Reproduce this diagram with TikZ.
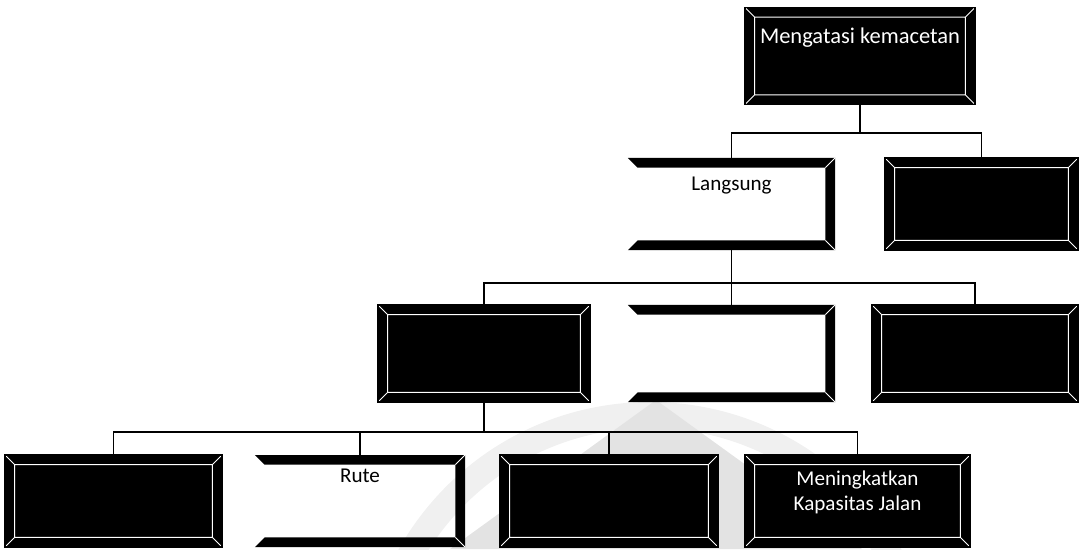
\documentclass[tikz,border=0pt]{standalone}
\usepackage{fontspec}
\setmainfont{Carlito}
\usetikzlibrary{positioning, calc}
\newcommand{\bevd}{2.4mm}
\newcommand{\bevlines}[1]{%
  \draw[#1, line width=0.7pt]
    ([shift={(\bevd,-\bevd)}]path picture bounding box.north west) rectangle ([shift={(-\bevd,\bevd)}]path picture bounding box.south east)
    (path picture bounding box.north west) -- ++(\bevd,-\bevd)
    (path picture bounding box.north east) -- ++(-\bevd,-\bevd)
    (path picture bounding box.south east) -- ++(-\bevd,\bevd)
    (path picture bounding box.south west) -- ++(\bevd,\bevd);}
\newcommand{\bevbands}{%
  \fill[black] (path picture bounding box.north west) -- (path picture bounding box.north east) -- ++(-\bevd,-\bevd) -- ([shift={(\bevd,-\bevd)}]path picture bounding box.north west) -- cycle;
  \fill[black] (path picture bounding box.north east) -- (path picture bounding box.south east) -- ++(-\bevd,\bevd) -- ([shift={(-\bevd,-\bevd)}]path picture bounding box.north east) -- cycle;
  \fill[black] (path picture bounding box.south west) -- (path picture bounding box.south east) -- ++(-\bevd,\bevd) -- ([shift={(\bevd,\bevd)}]path picture bounding box.south west) -- cycle;
  \draw[white, line width=0.7pt] (path picture bounding box.north east) -- ++(-\bevd,-\bevd)
    (path picture bounding box.south east) -- ++(-\bevd,\bevd);}
\tikzset{
  box/.style={rectangle, inner sep=0pt, font=\fontsize{15}{18}\selectfont, align=center},
  dbox/.style={box, draw=black, line width=1.2pt, fill=black, text=white, path picture={\bevlines{white}}},
  wbox/.style={box, text=black, path picture={\bevbands}},
  wd/.style={minimum width=#1*0.25mm},
  ht/.style={minimum height=#1*0.25mm},
  up/.style={text depth=#1},
  lnk/.style={line width=1.4pt}
}

\begin{document}
\begin{tikzpicture}[x=0.025cm, y=-0.025cm]
  \useasboundingbox (0,0) rectangle (1080,549);
  % watermark
  \draw[gray!12, line width=26*0.25mm] (650,690) circle (275);
  \fill[gray!22] (656,400) -- (862,549) -- (450,549) -- cycle;
  % level 1
  \node[dbox, wd=230, ht=97, up=10mm, font=\fontsize{16}{19}\selectfont] (mk) at (860,56) {Mengatasi kemacetan};
  % level 2
  \node[wbox, wd=207, ht=92, up=10mm] (lgs) at (731.5,204) {Langsung};
  \node[dbox, wd=193, ht=92] (tlgs) at (981.5,204) {};
  % level 3
  \node[dbox, wd=212, ht=97] (sup) at (484,353.5) {};
  \node[wbox, wd=207, ht=97] (mid) at (731.5,353.5) {};
  \node[dbox, wd=206, ht=97] (dem) at (975,353.5) {};
  % level 4
  \node[dbox, wd=217, ht=92] (psr) at (113.5,501) {};
  \node[wbox, wd=210, ht=92, up=12.5mm] (rute) at (360,501) {Rute};
  \node[dbox, wd=218, ht=92] (ljr) at (609,501) {};
  \node[dbox, wd=225, ht=92, up=5mm] (kap) at (857.5,501) {Meningkatkan\\Kapasitas Jalan};
  % connectors
  \coordinate (b1) at ($(mk.south)+(0,28)$);
  \draw[lnk] (mk.south) -- (b1);
  \draw[lnk] (lgs.north) |- (b1) -| (tlgs.north);
  \coordinate (b2) at ($(lgs.south)+(0,33)$);
  \draw[lnk] (lgs.south) -- (mid.north);
  \draw[lnk] (sup.north) |- (b2) -| (dem.north);
  \coordinate (b3) at ($(sup.south)+(0,29)$);
  \draw[lnk] (sup.south) -- (b3);
  \draw[lnk] (psr.north) |- (b3) -| (kap.north);
  \draw[lnk] (rute.north) -- (rute.north |- b3);
  \draw[lnk] (ljr.north) -- (ljr.north |- b3);
\end{tikzpicture}
\end{document}
